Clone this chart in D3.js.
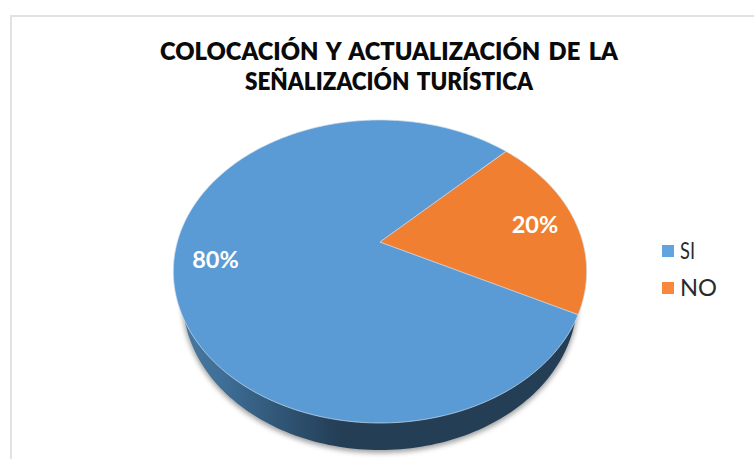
<!DOCTYPE html>
<html><head><meta charset="utf-8">
<script src="https://cdn.jsdelivr.net/npm/d3@7"></script>
<style>html,body{margin:0;padding:0;background:#fff}svg{display:block}text{font-family:Lato,"Open Sans",sans-serif}</style>
</head><body><svg id="c" width="754" height="459"></svg>
<script>
const categories = ["SI","NO"];
const values = [80,20];
const labels = ["80%","20%"];
const colors = ["#5b9bd5","#f07f31"];
const legendColors = ["#62a5de","#fa883a"];
const titleLines = ["COLOCACIÓN Y ACTUALIZACIÓN DE LA","SEÑALIZACIÓN TURÍSTICA"];

const svg = d3.select("#c");
const defs = svg.append("defs");
const grad = defs.append("linearGradient").attr("id","side").attr("gradientUnits","userSpaceOnUse")
  .attr("x1",183).attr("x2",577).attr("y1",0).attr("y2",0);
[[0,"#47779f"],[0.1,"#3f6e96"],[0.22,"#325a7c"],[0.4,"#243e55"],[1,"#243e55"]].forEach(s=>
  grad.append("stop").attr("offset",s[0]).attr("stop-color",s[1]));
defs.append("filter").attr("id","blur").attr("x","-10%").attr("y","-10%").attr("width","120%").attr("height","120%")
  .append("feGaussianBlur").attr("stdDeviation",2.5);

// frame
svg.append("path").attr("d","M11,459V16H754").attr("fill","none").attr("stroke","#e2e2e2").attr("stroke-width",2);

// title
svg.selectAll("text.t").data(titleLines).join("text").attr("class","t")
  .attr("x",389).attr("y",(d,i)=>60+i*30).attr("text-anchor","middle")
  .attr("font-size",24.5).attr("font-weight",800).attr("fill","#0a0a0a").attr("word-spacing",3)
  .attr("textLength",(d,i)=>i?288:458).attr("lengthAdjust","spacingAndGlyphs").text(d=>d);

// projection of the tilted unit circle
const apex=[380,242], k=-0.1947, a=202.7, b=145.75;
const project=t=>{const u=Math.sin(t),v=-Math.cos(t),w=1+k*v;return [apex[0]+a*u/w,apex[1]+b*v/w];};
const deg=d=>d*Math.PI/180;
const pie=d3.pie().sort(null).value(d=>d).startAngle(deg(117)).endAngle(deg(477));
const arcs=pie(values);
const line=d3.line();
const ellipse=(cx,cy,rx,ry)=>line(d3.range(240).map(i=>{const t=i/240*2*Math.PI;return [cx+rx*Math.cos(t),cy+ry*Math.sin(t)];}))+"Z";

// shadow and extruded side
svg.append("path").attr("d",ellipse(380,302,198,151)).attr("fill","#8c8c8c").attr("opacity",0.8).attr("filter","url(#blur)");
svg.append("path").attr("d",ellipse(380,300,197,150)).attr("fill","url(#side)");

// slices
svg.selectAll("path.s").data(arcs).join("path").attr("class","s")
  .attr("d",d=>{
    const n=Math.ceil((d.endAngle-d.startAngle)*60);
    return line([apex,...d3.range(n+1).map(i=>project(d.startAngle+(d.endAngle-d.startAngle)*i/n))])+"Z";
  })
  .attr("fill",(d,i)=>colors[i]).attr("stroke","#cfdeec").attr("stroke-width",0.7).attr("stroke-linejoin","round");

// data labels
const labelPos=[[215.5,268],[535,233]];
svg.selectAll("text.l").data(labels).join("text").attr("class","l")
  .attr("x",(d,i)=>labelPos[i][0]).attr("y",(d,i)=>labelPos[i][1]).attr("text-anchor","middle")
  .attr("font-size",23.5).attr("font-weight",700).attr("fill","#fff").text(d=>d);

// legend
const lg=svg.selectAll("g.lg").data(categories).join("g").attr("class","lg")
  .attr("transform",(d,i)=>`translate(662,${251+i*37})`);
lg.append("rect").attr("x",0).attr("y",-6).attr("width",12).attr("height",12).attr("fill",(d,i)=>legendColors[i]);
lg.append("text").attr("x",18).attr("y",7.5).attr("font-size",23).attr("fill","#2a2a2a")
  .attr("textLength",(d,i)=>i?37:15).attr("lengthAdjust","spacingAndGlyphs").text(d=>d);
</script></body></html>
